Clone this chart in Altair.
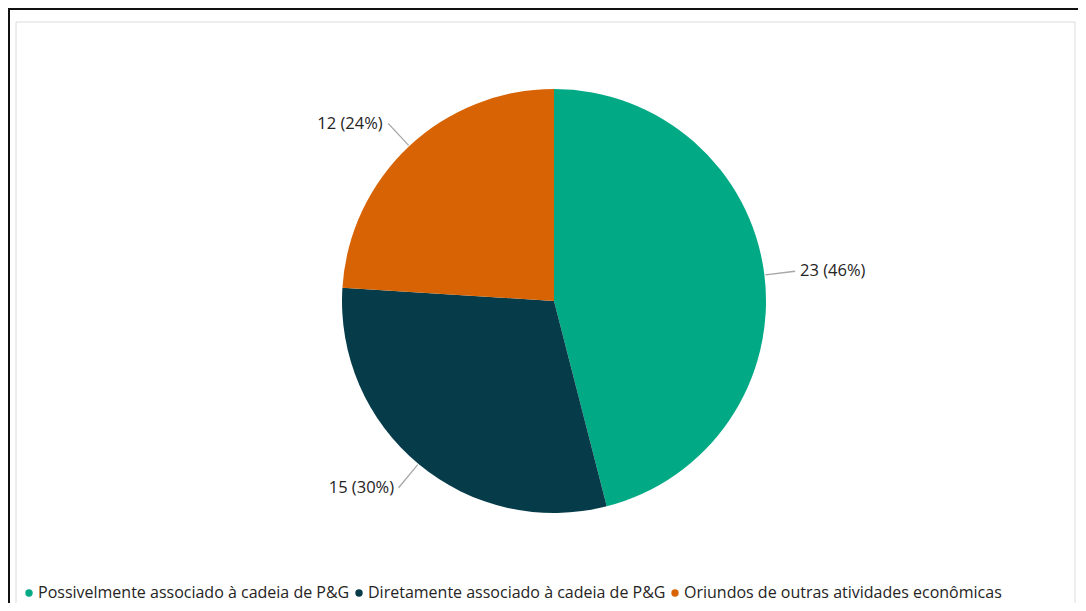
import altair as alt
import pandas as pd

categories = [
    "Possivelmente associado à cadeia de P&G",
    "Diretamente associado à cadeia de P&G",
    "Oriundos de outras atividades econômicas",
]
values = [23, 15, 12]
order = [0, 1, 2]
colors = ["#01A985", "#063C4A", "#D76305"]

total = sum(values)
labels = [f"{v} ({round(100 * v / total)}%)" for v in values]

df = pd.DataFrame({"cat": categories, "value": values, "order": order, "label": labels})

FONT = "Open Sans"
TXT = "#252423"
FS = 16.5

base = (
    alt.Chart(df)
    .transform_joinaggregate(total="sum(value)")
    .transform_window(cum="sum(value)", sort=[alt.SortField("order")], frame=[None, 0])
    .transform_calculate(
        t0="(datum.cum - datum.value) / datum.total",
        t1="datum.cum / datum.total",
        mid="(datum.cum - datum.value / 2) / datum.total",
        mid2="(datum.cum - datum.value / 2) / datum.total + 0.0009",
        side="(datum.cum - datum.value / 2) / datum.total < 0.5 ? 'right' : 'left'",
    )
)

theta_scale = alt.Scale(domain=[0, 1], range=[0, 6.283185307179586])

color = alt.Color(
    "cat:N",
    scale=alt.Scale(domain=categories, range=colors),
    legend=alt.Legend(
        title=None,
        orient="none",
        legendX=-9,
        legendY=563,
        direction="horizontal",
        symbolType="circle",
        symbolSize=55,
        symbolStrokeWidth=0,
        labelFont=FONT,
        labelFontSize=16,
        labelColor=TXT,
        labelOffset=1,
        columnPadding=1,
        labelLimit=500,
    ),
)

pie = base.mark_arc(outerRadius=212, innerRadius=0).encode(
    theta=alt.Theta("t0:Q", scale=theta_scale, stack=None),
    theta2="t1:Q",
    color=color,
    order=alt.Order("order:Q"),
)

leader = base.mark_arc(innerRadius=213, outerRadius=243, fill="#a6a6a6").encode(
    theta=alt.Theta("mid:Q", scale=theta_scale, stack=None),
    theta2="mid2:Q",
)

text_right = base.transform_filter("datum.side == 'right'").mark_text(
    radius=243, align="left", baseline="middle", dx=5, font=FONT, fontSize=FS, color=TXT
).encode(theta=alt.Theta("mid:Q", scale=theta_scale, stack=None), text="label:N")

text_left = base.transform_filter("datum.side == 'left'").mark_text(
    radius=243, align="right", baseline="middle", dx=-5, font=FONT, fontSize=FS, color=TXT
).encode(theta=alt.Theta("mid:Q", scale=theta_scale, stack=None), text="label:N")

frame_df = pd.DataFrame({"k": [0]})
outer = alt.Chart(frame_df).mark_rect(fillOpacity=0, stroke="#111111", strokeWidth=2).encode(
    x=alt.value(-21), x2=alt.value(1100), y=alt.value(-13), y2=alt.value(700)
)
inner = alt.Chart(frame_df).mark_rect(fillOpacity=0, stroke="#dcdcdc", strokeWidth=1).encode(
    x=alt.value(-14), x2=alt.value(1045), y=alt.value(0), y2=alt.value(586)
)

chart = (
    alt.layer(outer, inner, pie, leader, text_right, text_left)
    .properties(
        width=1048,
        height=558,
        padding={"left": 22, "top": 14, "right": 0, "bottom": 23},
        autosize="none",
        background="white",
    )
    .configure_view(stroke=None)
)

chart.save("out.html", embed_options={"renderer": "svg", "actions": False})
